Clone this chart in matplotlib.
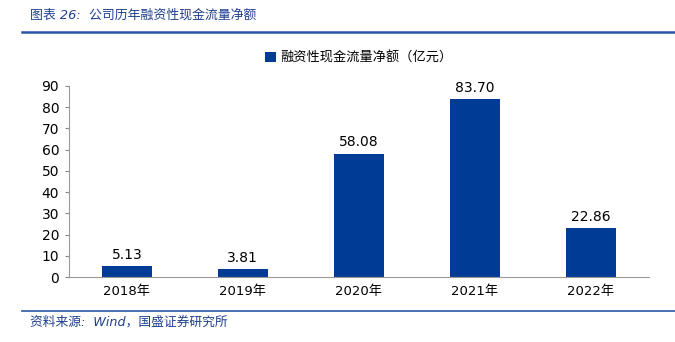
import matplotlib.pyplot as plt
from matplotlib.lines import Line2D

plt.rcParams['font.family'] = ['DejaVu Sans', 'Noto Sans CJK SC']

years = ['2018年', '2019年', '2020年', '2021年', '2022年']
netFinancingCash = [5.13, 3.81, 58.08, 83.70, 22.86]
yTicks = [0, 10, 20, 30, 40, 50, 60, 70, 80, 90]

barColor = '#003C96'
textBlue = '#1F3F8F'
lineBlue = '#2A56A8'

fig = plt.figure(figsize=(6.75, 3.42), dpi=100)
ax = fig.add_axes([0.102, 0.19, 0.859, 0.559])

xs = range(len(years))
bars = ax.bar(xs, netFinancingCash, width=0.43, color=barColor,
              label='融资性现金流量净额（亿元）')
for x, v in zip(xs, netFinancingCash):
    ax.text(x, v + 2, '{:.2f}'.format(v), ha='center', va='bottom', fontsize=10)

ax.set_xlim(-0.5, len(years) - 0.5)
ax.set_ylim(0, 90)
ax.set_yticks(yTicks)
ax.set_xticks(list(xs))
ax.set_xticklabels(years, fontsize=9.5)
ax.tick_params(axis='y', labelsize=10, length=3, color='#888888', pad=4)
ax.tick_params(axis='x', length=0, pad=6)
for s in ['top', 'right']:
    ax.spines[s].set_visible(False)
ax.spines['left'].set_color('#999999')
ax.spines['bottom'].set_color('#999999')

ax.legend(loc='center', bbox_to_anchor=(0.5, 1.147), frameon=False,
          fontsize=9.5, handlelength=0.8, handleheight=0.8, handletextpad=0.3)

# header and footer
fig.text(0.045, 0.955, '图表 26:  公司历年融资性现金流量净额', fontsize=9.3,
         color=textBlue, style='italic', va='center')
fig.add_artist(Line2D([0.032, 1.0], [0.905, 0.905], color=lineBlue, lw=1.8))
fig.add_artist(Line2D([0.032, 1.0], [0.09, 0.09], color=lineBlue, lw=1.2))
fig.text(0.045, 0.058, '资料来源:  Wind，国盛证券研究所', fontsize=9.2,
         color=textBlue, style='italic', va='center')

fig.savefig('out.png', dpi=100)
